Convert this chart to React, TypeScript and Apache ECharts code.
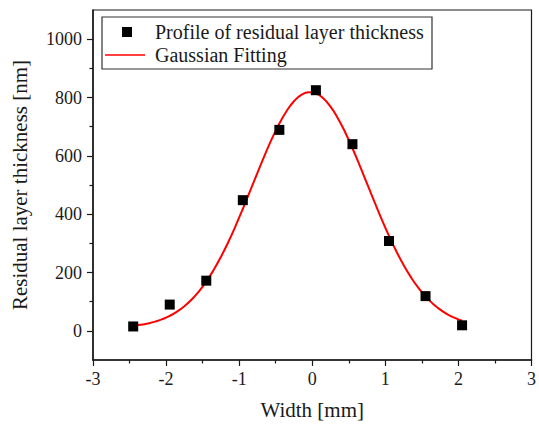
import React, { useEffect, useRef } from "react";
import * as echarts from "echarts";

const pointX = [-2.45, -1.95, -1.45, -0.95, -0.45, 0.05, 0.55, 1.05, 1.55, 2.05];
const pointY = [15, 90, 172, 448, 689, 825, 640, 308, 119, 19];

const fitX = [
  -2.45, -2.35, -2.25, -2.15, -2.05, -1.95, -1.85, -1.75, -1.65, -1.55,
  -1.45, -1.35, -1.25, -1.15, -1.05, -0.95, -0.85, -0.75, -0.65, -0.55,
  -0.45, -0.35, -0.25, -0.15, -0.05, 0.05, 0.15, 0.25, 0.35, 0.45,
  0.55, 0.65, 0.75, 0.85, 0.95, 1.05, 1.15, 1.25, 1.35, 1.45,
  1.55, 1.65, 1.75, 1.85, 1.95, 2.05,
];
const fitY = [
  17.2, 20.5, 25.2, 31.5, 40.1, 51.3, 65.9, 84.3, 107.4, 135.4,
  168.9, 208.3, 253.4, 303.8, 359.1, 418.3, 479.8, 541.9, 602.6, 659.7,
  710.9, 753.9, 787.1, 808.7, 817.8, 813.9, 797.2, 768.5, 729.2, 681.0,
  626.0, 566.5, 504.7, 442.7, 382.4, 325.4, 272.8, 225.6, 184.0, 148.1,
  117.9, 93.0, 72.8, 56.7, 44.2, 34.7,
];

const yMajorTicks = [0, 200, 400, 600, 800, 1000];
const yMinorTicks = [100, 300, 500, 700, 900];

const seriesNames = ["Profile of residual layer thickness", "Gaussian Fitting"];
const xTitle = "Width [mm]";
const yTitle = "Residual layer thickness [nm]";

const FONT = "Liberation Serif";
const INK = "#1a1a1a";

export default function App() {
  const ref = useRef<HTMLDivElement>(null);
  useEffect(() => {
    if (!ref.current) return;
    const chart = echarts.init(ref.current, undefined, { renderer: "svg" });
    const left = 93, top = 10, right = 533, bottom = 363;
    const plain = (v: number) => String(v);
    const labelStyle = { fontFamily: FONT, fontSize: 18, color: INK, fontStyle: "normal", fontWeight: "normal" };
    const nameStyle = { fontFamily: FONT, fontSize: 21, color: INK, fontStyle: "normal", fontWeight: "normal" };
    chart.setOption({
      animation: false,
      backgroundColor: "#ffffff",
      textStyle: { fontFamily: FONT },
      grid: {
        left,
        top,
        width: right - left,
        height: bottom - top,
        show: true,
        borderColor: INK,
        borderWidth: 1.2,
        backgroundColor: "transparent",
      },
      xAxis: {
        type: "value",
        min: -3,
        max: 3,
        interval: 1,
        name: xTitle,
        nameLocation: "middle",
        nameGap: 39,
        nameTextStyle: nameStyle,
        axisLine: { onZero: false, lineStyle: { color: INK, width: 1.5 } },
        axisTick: { inside: false, length: 6, lineStyle: { color: INK, width: 1.2 } },
        minorTick: { show: true, splitNumber: 2, length: 3.5, lineStyle: { color: INK, width: 1.2 } },
        axisLabel: { ...labelStyle, margin: 10, formatter: plain },
        splitLine: { show: false },
      },
      yAxis: [
        {
          type: "value",
          min: -100,
          max: 1100,
          name: yTitle,
          nameLocation: "middle",
          nameGap: 63,
          nameTextStyle: nameStyle,
          axisLine: { onZero: false, lineStyle: { color: INK, width: 1.5 } },
          axisTick: { inside: false, length: 6, customValues: yMajorTicks, lineStyle: { color: INK, width: 1.2 } },
          axisLabel: { ...labelStyle, margin: 11, customValues: yMajorTicks, formatter: plain },
          splitLine: { show: false },
        },
        {
          type: "value",
          min: -100,
          max: 1100,
          position: "left",
          axisLine: { show: false, onZero: false },
          axisTick: { show: true, inside: false, length: 3.5, customValues: yMinorTicks, lineStyle: { color: INK, width: 1.2 } },
          axisLabel: { show: false },
          splitLine: { show: false },
        },
      ],
      series: [
        {
          name: seriesNames[0],
          type: "scatter",
          symbol: "rect",
          symbolSize: 10,
          itemStyle: { color: "#000000", opacity: 1 },
          data: pointX.map((x, i) => [x, pointY[i]]),
          z: 3,
        },
        {
          name: seriesNames[1],
          type: "line",
          showSymbol: false,
          symbol: "none",
          smooth: true,
          lineStyle: { color: "#ff0000", width: 2 },
          data: fitX.map((x, i) => [x, fitY[i]]),
          z: 2,
        },
      ],
      graphic: [
        {
          type: "rect",
          shape: { x: 102, y: 17, width: 330, height: 52 },
          style: { fill: "#ffffff", stroke: "#333333", lineWidth: 1.2 },
          z: 10,
        },
        {
          type: "rect",
          shape: { x: 122, y: 27, width: 10, height: 10 },
          style: { fill: "#000000" },
          z: 11,
        },
        {
          type: "line",
          shape: { x1: 105, y1: 55, x2: 145, y2: 55 },
          style: { stroke: "#ff0000", lineWidth: 1.5 },
          z: 11,
        },
        {
          type: "text",
          x: 155,
          y: 32,
          style: { text: seriesNames[0], fontFamily: FONT, fontSize: 20, fill: INK, verticalAlign: "middle", align: "left" },
          z: 11,
        },
        {
          type: "text",
          x: 155,
          y: 55,
          style: { text: seriesNames[1], fontFamily: FONT, fontSize: 20, fill: INK, verticalAlign: "middle", align: "left" },
          z: 11,
        },
      ],
    });
    return () => chart.dispose();
  }, []);
  return (
    <div
      ref={ref}
      style={{ position: "fixed", left: 0, top: 0, width: 539, height: 425, background: "#fff", fontFamily: "Liberation Serif" }}
    />
  );
}
